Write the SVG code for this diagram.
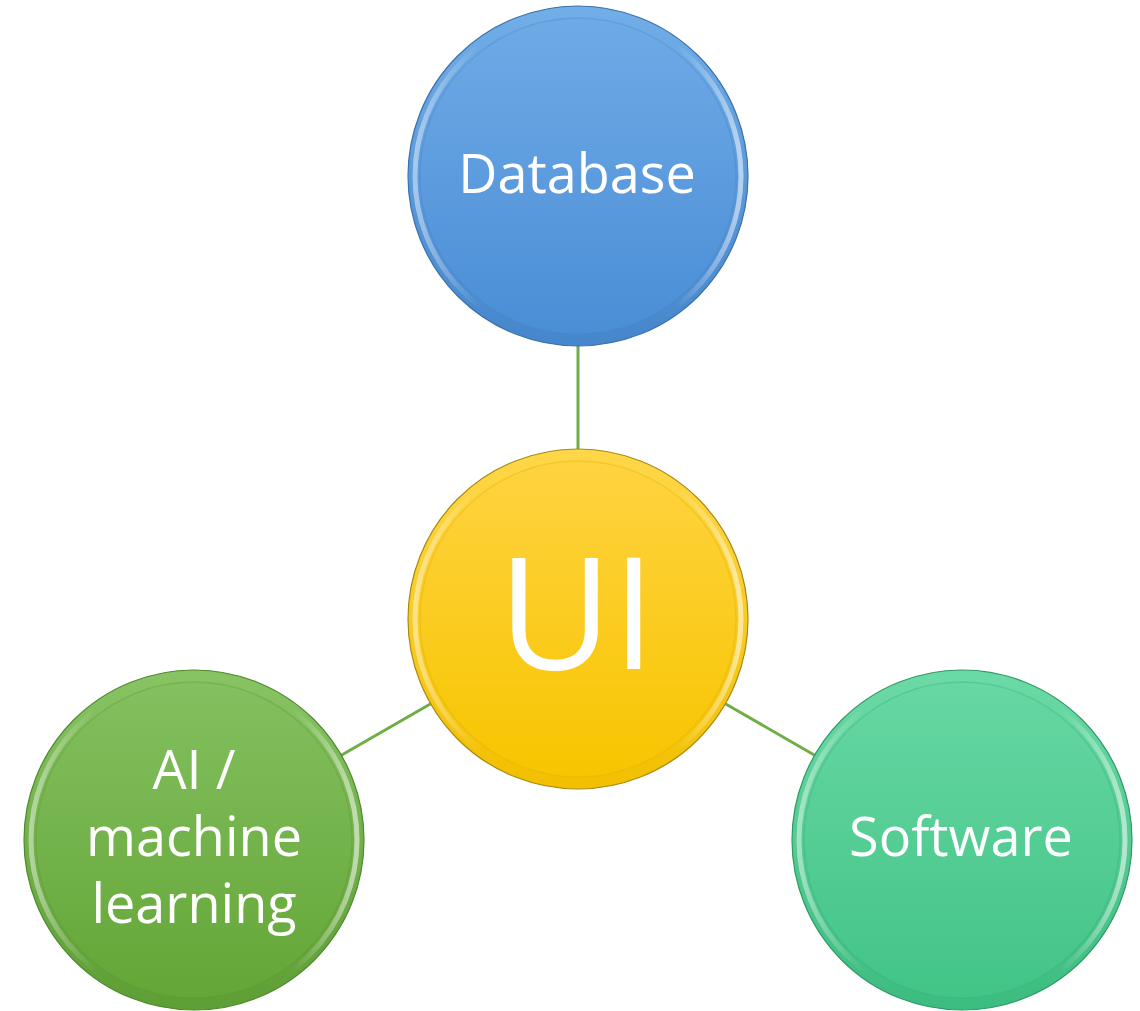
<svg xmlns="http://www.w3.org/2000/svg" width="1140" height="1011" viewBox="0 0 1140 1011">
<style>
.lbl{font-family:"Open Sans","Noto Sans","Liberation Sans",sans-serif;fill:#ffffff;text-anchor:middle;font-size:54px}
.conn{stroke:#70AD47;stroke-width:3;fill:none}
.hl{fill:none;stroke-width:5}
</style>
<defs>
<linearGradient id="hlg" x1="0" y1="0" x2="1" y2="0">
<stop offset="0" stop-color="#fff" stop-opacity="0.45"/>
<stop offset="0.2" stop-color="#fff" stop-opacity="0"/>
<stop offset="0.8" stop-color="#fff" stop-opacity="0"/>
<stop offset="1" stop-color="#fff" stop-opacity="0.55"/>
</linearGradient>
<linearGradient id="dbRim" x1="0" y1="0" x2="0" y2="1"><stop offset="0" stop-color="#72AEE8"/><stop offset="1" stop-color="#4586CC"/></linearGradient>
<linearGradient id="dbIn" x1="0" y1="0" x2="0" y2="1"><stop offset="0" stop-color="#6FAAE6"/><stop offset="1" stop-color="#4A8ED6"/></linearGradient>
<linearGradient id="uiRim" x1="0" y1="0" x2="0" y2="1"><stop offset="0" stop-color="#FFD748"/><stop offset="1" stop-color="#F2C000"/></linearGradient>
<linearGradient id="uiIn" x1="0" y1="0" x2="0" y2="1"><stop offset="0" stop-color="#FFD340"/><stop offset="1" stop-color="#F7C500"/></linearGradient>
<linearGradient id="aiRim" x1="0" y1="0" x2="0" y2="1"><stop offset="0" stop-color="#88C464"/><stop offset="1" stop-color="#5E9E34"/></linearGradient>
<linearGradient id="aiIn" x1="0" y1="0" x2="0" y2="1"><stop offset="0" stop-color="#83C05F"/><stop offset="1" stop-color="#64A637"/></linearGradient>
<linearGradient id="swRim" x1="0" y1="0" x2="0" y2="1"><stop offset="0" stop-color="#6CDAA6"/><stop offset="1" stop-color="#3CBC80"/></linearGradient>
<linearGradient id="swIn" x1="0" y1="0" x2="0" y2="1"><stop offset="0" stop-color="#67D7A3"/><stop offset="1" stop-color="#42C487"/></linearGradient>
</defs>
<rect width="1140" height="1011" fill="#ffffff"/>
<g id="connectors">
<line class="conn" x1="578" y1="345" x2="578" y2="450"/>
<line class="conn" x1="432" y1="703" x2="340" y2="756"/>
<line class="conn" x1="724" y1="703" x2="816" y2="756"/>
</g>
<g id="database">
<circle cx="578" cy="176" r="170" fill="url(#dbRim)" stroke="#3A70AC" stroke-width="1.2"/>
<circle cx="578" cy="176" r="163" class="hl" stroke="url(#hlg)"/>
<circle cx="578" cy="176" r="158" fill="url(#dbIn)" stroke="#4A86C8" stroke-opacity="0.35" stroke-width="1.5"/>
<text class="lbl" x="577" y="193">Database</text>
</g>
<g id="ui">
<circle cx="578" cy="619" r="170" fill="url(#uiRim)" stroke="#A88A10" stroke-width="1.2"/>
<circle cx="578" cy="619" r="163" class="hl" stroke="url(#hlg)"/>
<circle cx="578" cy="619" r="158" fill="url(#uiIn)" stroke="#E0B000" stroke-opacity="0.35" stroke-width="1.5"/>
<text class="lbl" x="577" y="669" style="font-size:156px">UI</text>
</g>
<g id="ai">
<circle cx="194" cy="840" r="170" fill="url(#aiRim)" stroke="#4E8A2C" stroke-width="1.2"/>
<circle cx="194" cy="840" r="163" class="hl" stroke="url(#hlg)"/>
<circle cx="194" cy="840" r="158" fill="url(#aiIn)" stroke="#5C9A34" stroke-opacity="0.35" stroke-width="1.5"/>
<text class="lbl" x="194" y="789">AI /</text>
<text class="lbl" x="194" y="856">machine</text>
<text class="lbl" x="194" y="923">learning</text>
</g>
<g id="software">
<circle cx="962" cy="840" r="170" fill="url(#swRim)" stroke="#2E9A66" stroke-width="1.2"/>
<circle cx="962" cy="840" r="163" class="hl" stroke="url(#hlg)"/>
<circle cx="962" cy="840" r="158" fill="url(#swIn)" stroke="#3AB07A" stroke-opacity="0.35" stroke-width="1.5"/>
<text class="lbl" x="961" y="856">Software</text>
</g>
</svg>
